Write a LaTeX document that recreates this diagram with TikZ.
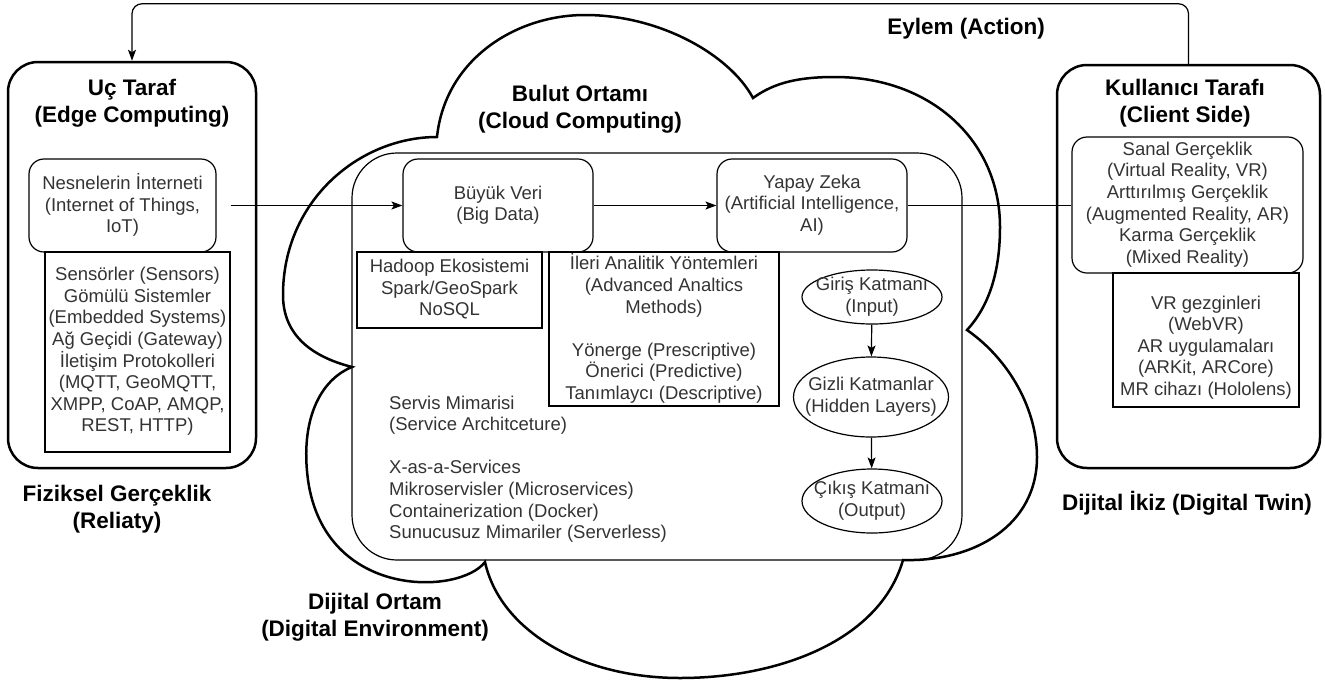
\documentclass[tikz,border=0pt]{standalone}
\usepackage{fontspec}
\setmainfont{Liberation Sans}
\usetikzlibrary{arrows.meta,shapes.geometric,calc}
\definecolor{txtgray}{HTML}{333333}
% line-box struts so multi-line text is centred by its line boxes
\newcommand{\topstrut}{\rule{0pt}{17.5pt}}
\newcommand{\botstrut}{\rule[-4.7pt]{0pt}{4.7pt}}
\begin{document}
\begin{tikzpicture}[x=1pt,y=-1pt,
  body/.style={font=\fontsize{18.5}{21.6}\selectfont, text=txtgray, align=center, inner sep=0pt,
    execute at begin node=\topstrut, execute at end node=\botstrut},
  title/.style={font=\fontsize{22.5}{27.5}\selectfont\bfseries, text=black, align=center, inner sep=0pt},
  panel/.style={draw, line width=2.5pt, rounded corners=30pt},
  rbox/.style={draw, line width=1.2pt, rounded corners=15pt, body},
  sbox/.style={draw, line width=1.2pt, body},
  layer/.style={draw, ellipse, line width=1.2pt, inner sep=0pt},
  conn/.style={line width=1.2pt},
  arr/.style={conn, -{Stealth[length=11pt,width=8pt,inset=2.5pt]}},
]
\useasboundingbox (0,0) rectangle (1325,681);

% ---- cloud outline ----
\draw[line width=2.5pt, line join=miter]
  (437,137) .. controls (445,60) and (515,15) .. (585,15)
  .. controls (660,15) and (730,55) .. (753,98)
  .. controls (775,82) and (800,77) .. (835,77)
  .. controls (930,77) and (1000,140) .. (1000,227)
  .. controls (1000,270) and (990,305) .. (967,330)
  .. controls (1010,360) and (1037,410) .. (1037,457)
  .. controls (1037,525) and (975,562) .. (903,560)
  .. controls (880,640) and (780,678) .. (680,678)
  .. controls (580,678) and (500,630) .. (485,562)
  .. controls (460,595) and (325,600) .. (308,480)
  .. controls (300,420) and (320,380) .. (352,367)
  .. controls (305,355) and (283,330) .. (283,295)
  .. controls (283,200) and (360,137) .. (437,137) -- cycle;

% ---- edge side ----
\node[panel, minimum width=248pt, minimum height=406pt] (edge) at (132,265) {};
\node[title] (edgeT) at (132,103) {Uç Taraf\\(Edge Computing)};
\node[rbox, minimum width=187pt, minimum height=93pt] (iot) at (122.5,205.5)
  {Nesnelerin İnterneti\\(Internet of Things,\\IoT)};
\node[sbox, minimum width=185pt, minimum height=200pt] (sens) at (137.5,352)
  {Sensörler (Sensors)\\Gömülü Sistemler\\(Embedded Systems)\\Ağ Geçidi (Gateway)\\İletişim Protokolleri\\(MQTT, GeoMQTT,\\XMPP, CoAP, AMQP,\\REST, HTTP)};
\node[title] (phys) at (117,509) {Fiziksel Gerçeklik\\(Reliaty)};

% ---- cloud side ----
\node[title] (cloudT) at (580,109) {Bulut Ortamı\\(Cloud Computing)};
\node[draw, line width=1.2pt, rounded corners=45pt, minimum width=610pt, minimum height=407pt] (dig) at (657,356.5) {};
\node[rbox, minimum width=190pt, minimum height=93pt] (bd) at (498,205.5) {Büyük Veri\\(Big Data)};
\node[rbox, minimum width=190pt, minimum height=93pt] (ai) at (812,205.5)
  {Yapay Zeka\\(Artificial Intelligence,\\AI)};
\node[sbox, minimum width=185pt, minimum height=76pt] (hd) at (449.5,290)
  {Hadoop Ekosistemi\\Spark/GeoSpark\\NoSQL};
\node[sbox, minimum width=230pt, minimum height=154pt] (an) at (664,329)
  {İleri Analitik Yöntemleri\\(Advanced Analtics\\Methods)\\[21.6pt]Yönerge (Prescriptive)\\Önerici (Predictive)\\Tanımlaycı (Descriptive)};
\node[body, align=left, anchor=west] (svc) at (389,469.5)
  {Servis Mimarisi\\(Service Architceture)\\[21.6pt]X-as-a-Services\\Mikroservisler (Microservices)\\Containerization (Docker)\\Sunucusuz Mimariler (Serverless)};

% neural network layers
\node[layer, minimum width=140pt, minimum height=54pt] (inL) at (872,297) {};
\node[body] (inLT) at (inL.center) {Giriş Katmanı\\(Input)};
\node[layer, minimum width=155pt, minimum height=80pt] (hidL) at (871,397) {};
\node[body] (hidLT) at (hidL.center) {Gizli Katmanlar\\(Hidden Layers)};
\node[layer, minimum width=140pt, minimum height=64pt] (outL) at (872,501) {};
\node[body] (outLT) at (outL.center) {Çıkış Katmanı\\(Output)};
\draw[arr] (inL) -- (hidL);
\draw[arr] (hidL) -- (outL);

\node[title] (digT) at (375,617) {Dijital Ortam\\(Digital Environment)};

% ---- client side ----
\node[panel, minimum width=263pt, minimum height=403pt] (cli) at (1188.5,266.5) {};
\node[title] (cliT) at (1185,103) {Kullanıcı Tarafı\\(Client Side)};
\node[rbox, minimum width=231pt, minimum height=136pt] (vr) at (1187.5,205)
  {Sanal Gerçeklik\\(Virtual Reality, VR)\\Arttırılmış Gerçeklik\\(Augmented Reality, AR)\\Karma Gerçeklik\\(Mixed Reality)};
\node[sbox, minimum width=186pt, minimum height=134pt] (app) at (1206,340) {};
\node[body] (appT) at (1206,348)
  {VR gezginleri\\(WebVR)\\AR uygulamaları\\(ARKit, ARCore)\\MR cihazı (Hololens)};
\node[title] (twin) at (1187,503) {Dijital İkiz (Digital Twin)};

% ---- connectors ----
\coordinate (iotOut) at (sens.east |- iot.east);
\draw[arr] (iotOut) -- (bd.west);
\draw[arr] (bd.east) -- (ai.west);
\draw[conn] (ai.east) -- (ai.east -| vr.west);
\draw[arr, rounded corners=10pt] (cli.north) -- ++(0,-60) -| (edge.north);
\node[title] (act) at (966,29) {Eylem (Action)};
\end{tikzpicture}
\end{document}
